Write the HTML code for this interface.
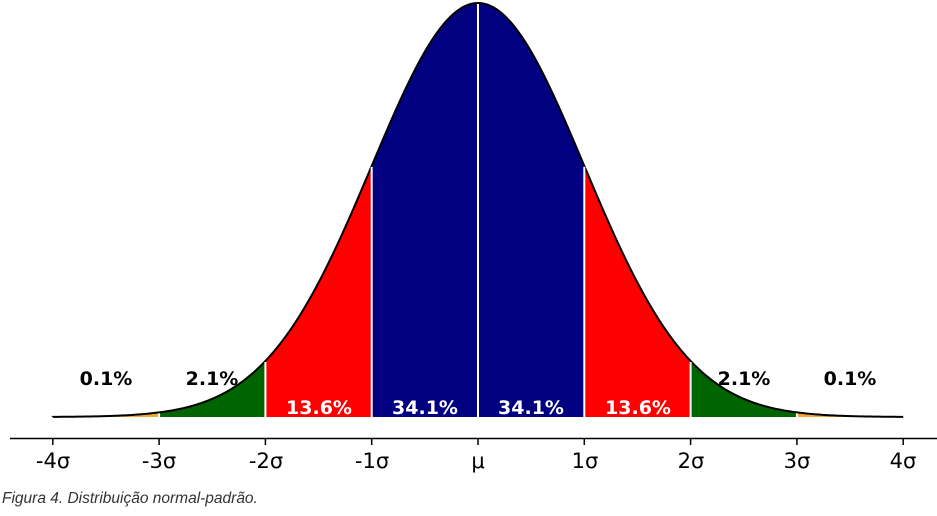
<!DOCTYPE html>
<html><head><meta charset="utf-8"><style>
html,body{margin:0;padding:0;background:#fff;width:937px;height:516px;overflow:hidden}
svg{display:block}
text{font-family:"DejaVu Sans","Liberation Sans",sans-serif}
</style></head><body>
<svg id="s" width="937" height="516" xmlns="http://www.w3.org/2000/svg">
<g id="fills"></g>
<path id="curve" fill="none" stroke="#000" stroke-width="2"/>
<g stroke="#fff" stroke-width="2" id="sep"></g>
<line x1="10" y1="438.5" x2="937" y2="438.5" stroke="#000" stroke-width="1.5"/>
<g id="ticks" stroke="#000" stroke-width="1.5"></g>
<g font-size="21" text-anchor="middle" fill="#000">
<text x="53" y="468">-4σ</text><text x="159" y="468">-3σ</text><text x="266" y="468">-2σ</text>
<text x="372" y="468">-1σ</text><text x="478" y="468">μ</text><text x="585" y="468">1σ</text>
<text x="691" y="468">2σ</text><text x="797" y="468">3σ</text><text x="903" y="468">4σ</text>
</g>
<g font-size="19" font-weight="bold" text-anchor="middle">
<text x="106" y="385" fill="#000">0.1%</text><text x="212" y="385" fill="#000">2.1%</text>
<text x="319" y="414" fill="#fff">13.6%</text><text x="425" y="414" fill="#fff">34.1%</text>
<text x="531" y="414" fill="#fff">34.1%</text><text x="638" y="414" fill="#fff">13.6%</text>
<text x="744" y="385" fill="#000">2.1%</text><text x="850" y="385" fill="#000">0.1%</text>
</g>
<text x="2" y="503" font-size="15.5" font-style="italic" fill="#333" style="font-family:'Liberation Sans',sans-serif">Figura 4. Distribuição normal-padrão.</text>
</svg>
<script>
var m=478,sg=106.3,b=417,h=414;
function X(z){return m+z*sg}function Y(z){return b-h*Math.exp(-z*z/2)}
var cols=["#f0a830","#006400","#ff0000","#000080","#000080","#ff0000","#006400","#f0a830"];
var f="",sep="",tk="";
for(var i=0;i<8;i++){var a=-4+i,p="M"+X(a)+","+b;for(var z=a;z<=a+1.0001;z+=0.02)p+=" L"+X(z).toFixed(2)+","+Y(z).toFixed(2);p+=" L"+X(a+1)+","+b+"Z";f+='<path d="'+p+'" fill="'+cols[i]+'"/>';}
for(var k=-3;k<=3;k++)sep+='<line x1="'+X(k)+'" y1="'+b+'" x2="'+X(k)+'" y2="'+(Y(k)+1)+'"/>';
for(var k=-4;k<=4;k++)tk+='<line x1="'+X(k)+'" y1="438" x2="'+X(k)+'" y2="445"/>';
var c="M"+X(-4)+","+Y(-4);for(var z=-4;z<=4.0001;z+=0.02)c+=" L"+X(z).toFixed(2)+","+Y(z).toFixed(2);
document.getElementById("fills").innerHTML=f;document.getElementById("sep").innerHTML=sep;
document.getElementById("ticks").innerHTML=tk;document.getElementById("curve").setAttribute("d",c);
</script>
</body></html>
